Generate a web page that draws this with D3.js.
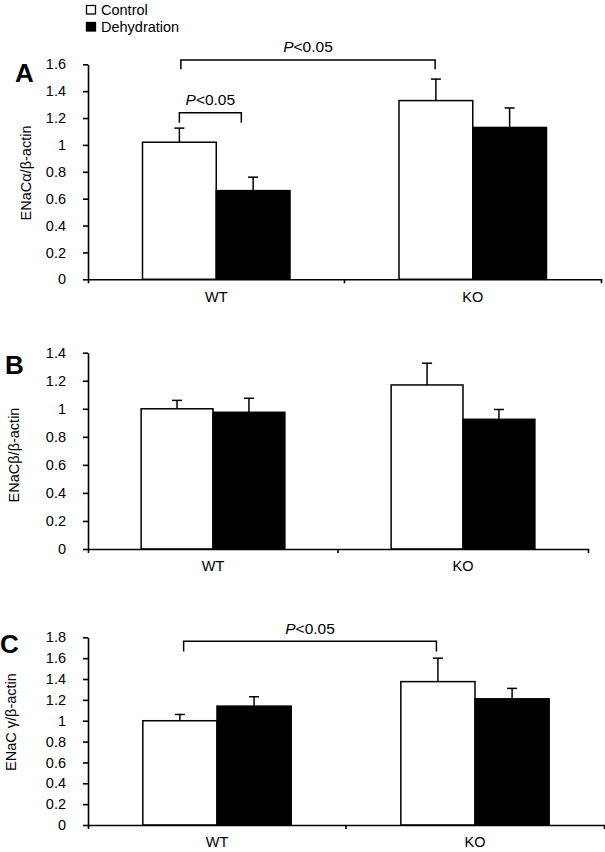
<!DOCTYPE html>
<html><head><meta charset="utf-8">
<script src="https://cdn.jsdelivr.net/npm/d3@7"></script>
<style>
body{margin:0;background:#fff}
svg{display:block}
text{font-family:"Liberation Sans",Arial,sans-serif;fill:#000}
</style>
</head><body>
<svg id="chart" width="605" height="852"></svg>
<script>
// ---------------- data ----------------
const categories = ["WT", "KO"];
const series = ["Control", "Dehydration"];

const alphaControl = [1.02, 1.33];
const alphaControlErr = [0.105, 0.16];
const alphaDehydration = [0.66, 1.13];
const alphaDehydrationErr = [0.10, 0.145];

const betaControl = [1.00, 1.17];
const betaControlErr = [0.06, 0.155];
const betaDehydration = [0.975, 0.925];
const betaDehydrationErr = [0.10, 0.07];

const gammaControl = [1.00, 1.375];
const gammaControlErr = [0.06, 0.225];
const gammaDehydration = [1.14, 1.21];
const gammaDehydrationErr = [0.09, 0.10];

const yMaxA = 1.6, yMaxB = 1.4, yMaxC = 1.8;
const yTickStep = 0.2;

const sigText = ["P", "<0.05"];
// brackets: [category, series, fraction across bar] ends, bar level, leg bottom level (data units)
const alphaBrackets = [
  {from: ["WT", "Control", 0.5], to: ["WT", "Dehydration", 0.34], y: 1.24, leg: 1.165},
  {from: ["WT", "Control", 0.52], to: ["KO", "Control", 0.49], y: 1.632, leg: 1.5625}
];
const betaBrackets = [];
const gammaBrackets = [
  {from: ["WT", "Control", 0.55], to: ["KO", "Control", 0.48], y: 1.761, leg: 1.665}
];

const yTitleA = "ENaCα/β-actin";
const yTitleB = "ENaCβ/β-actin";
const yTitleC = "ENaC γ/β-actin";

// ---------------- drawing ----------------
const svg = d3.select("#chart");
const FONT = 14.5;

// legend
const legend = svg.append("g");
series.forEach((s, i) => {
  legend.append("rect")
    .attr("x", 86.5).attr("y", 5.5 + i * 17)
    .attr("width", 9).attr("height", 8.5)
    .attr("fill", i === 0 ? "#fff" : "#000")
    .attr("stroke", "#000").attr("stroke-width", 1.3);
  legend.append("text")
    .attr("x", 101).attr("y", 14.5 + i * 17)
    .attr("font-size", FONT)
    .text(s);
});

function panel(cfg) {
  const g = svg.append("g");
  const y = d3.scaleLinear().domain([0, cfg.yMax]).range([cfg.bottom, cfg.top]);
  const x0 = d3.scaleBand().domain(categories).range([cfg.left, cfg.right])
    .paddingInner(0.425).paddingOuter(0.2125);
  const x1 = d3.scaleBand().domain(series).range([0, x0.bandwidth()]);

  const rows = [];
  categories.forEach((c, i) => series.forEach((s, j) => {
    rows.push({c, s, v: cfg.values[j][i], e: cfg.errors[j][i]});
  }));

  // error bars
  const eb = g.append("g").attr("stroke", "#000").attr("stroke-width", 1.5);
  rows.forEach(d => {
    const cx = x0(d.c) + x1(d.s) + x1.bandwidth() / 2;
    eb.append("line").attr("x1", cx).attr("x2", cx).attr("y1", y(d.v)).attr("y2", y(d.v + d.e));
    eb.append("line").attr("x1", cx - 5).attr("x2", cx + 5).attr("y1", y(d.v + d.e)).attr("y2", y(d.v + d.e));
  });

  // bars
  g.append("g").selectAll("rect").data(rows).join("rect")
    .attr("x", d => x0(d.c) + x1(d.s))
    .attr("y", d => y(d.v))
    .attr("width", x1.bandwidth())
    .attr("height", d => y(0) - y(d.v))
    .attr("fill", d => d.s === "Control" ? "#fff" : "#000")
    .attr("stroke", "#000").attr("stroke-width", 1.5);

  // y axis
  const ticks = d3.range(0, cfg.yMax + 1e-9, yTickStep);
  const ya = g.append("g").attr("transform", `translate(${cfg.left},0)`)
    .call(d3.axisLeft(y).tickValues(ticks).tickSize(5).tickSizeOuter(0).tickPadding(17)
      .tickFormat(d => String(+d.toFixed(1))));
  ya.attr("font-size", FONT).attr("font-family", '"Liberation Sans",Arial,sans-serif');
  ya.selectAll("path,line").attr("stroke", "#000").attr("stroke-width", 1.6);
  ya.selectAll("text").attr("fill", "#333");

  // x axis
  const xa = g.append("g").attr("transform", `translate(0,${cfg.bottom})`)
    .call(d3.axisBottom(x0).tickSize(0).tickSizeOuter(4).tickPadding(12));
  xa.attr("font-size", FONT).attr("font-family", '"Liberation Sans",Arial,sans-serif');
  xa.selectAll("path,line").attr("stroke", "#000").attr("stroke-width", 1.6);
  xa.selectAll("text").attr("fill", "#222");
  // internal category boundary ticks
  categories.slice(1).forEach(c => {
    const bx = x0(c) - x0.step() * x0.paddingInner() / 2;
    xa.append("line").attr("x1", bx).attr("x2", bx).attr("y1", 0).attr("y2", 4)
      .attr("stroke", "#000").attr("stroke-width", 1.6);
  });

  // significance brackets
  cfg.brackets.forEach(b => {
    const px = e => x0(e[0]) + x1(e[1]) + x1.bandwidth() * e[2];
    const xa1 = px(b.from), xa2 = px(b.to);
    g.append("path")
      .attr("d", `M${xa1},${y(b.leg)}V${y(b.y)}H${xa2}V${y(b.leg)}`)
      .attr("fill", "none").attr("stroke", "#000").attr("stroke-width", 1.5);
    const t = g.append("text")
      .attr("x", (xa1 + xa2) / 2).attr("y", y(b.y) - cfg.sigGap)
      .attr("text-anchor", "middle").attr("font-size", 15.5);
    t.append("tspan").attr("font-style", "italic").text(sigText[0]);
    t.append("tspan").text(sigText[1]);
  });

  // panel letter
  g.append("text").attr("x", cfg.letterX).attr("y", cfg.letterY)
    .attr("font-size", 26).attr("font-weight", "bold").text(cfg.letter);

  // y title
  g.append("text")
    .attr("transform", `translate(${cfg.titleX},${cfg.titleY}) rotate(-90)`)
    .attr("text-anchor", "middle").attr("font-size", FONT).attr("fill", "#333")
    .text(cfg.title);
}

panel({
  values: [alphaControl, alphaDehydration], errors: [alphaControlErr, alphaDehydrationErr],
  yMax: yMaxA, top: 64.3, bottom: 279.3, left: 88, right: 601,
  brackets: alphaBrackets, sigGap: 8, letter: "A", letterX: 15, letterY: 82,
  title: yTitleA, titleX: 30.5, titleY: 173
});
panel({
  values: [betaControl, betaDehydration], errors: [betaControlErr, betaDehydrationErr],
  yMax: yMaxB, top: 352.7, bottom: 549, left: 88, right: 588,
  brackets: betaBrackets, sigGap: 8, letter: "B", letterX: 5, letterY: 374,
  title: yTitleB, titleX: 19, titleY: 455
});
panel({
  values: [gammaControl, gammaDehydration], errors: [gammaControlErr, gammaDehydrationErr],
  yMax: yMaxC, top: 637.3, bottom: 825, left: 88, right: 604,
  brackets: gammaBrackets, sigGap: 7.5, letter: "C", letterX: 0, letterY: 653,
  title: yTitleC, titleX: 15.5, titleY: 722
});
</script>
</body></html>
